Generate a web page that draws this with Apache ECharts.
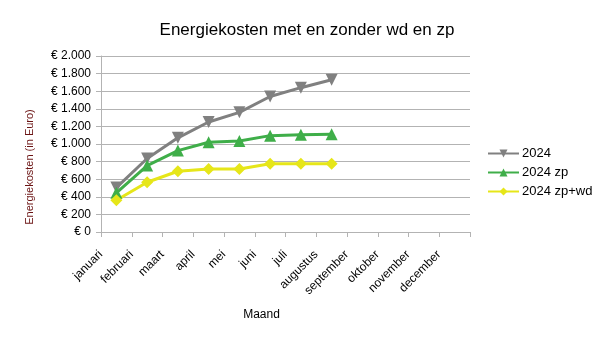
<!DOCTYPE html>
<html>
<head>
<meta charset="utf-8">
<script src="https://cdn.jsdelivr.net/npm/echarts@6/dist/echarts.min.js"></script>
<style>html,body{margin:0;padding:0;background:#fff;}#c{width:604px;height:340px;}</style>
</head>
<body>
<div id="c"></div>
<script>
var months = ['januari','februari','maart','april','mei','juni','juli','augustus','september','oktober','november','december'];
var s2024 = [505, 835, 1070, 1250, 1360, 1540, 1640, 1730, null, null, null, null];
var s2024zp = [445, 755, 925, 1020, 1035, 1095, 1105, 1110, null, null, null, null];
var s2024zpwd = [360, 565, 690, 715, 715, 775, 775, 775, null, null, null, null];
var seriesNames = ['2024', '2024 zp', '2024 zp+wd'];
var yTicks = {min: 0, max: 2000, interval: 200};

var font = 'Liberation Sans, Arial, sans-serif';
var chart = echarts.init(document.getElementById('c'), null, {renderer: 'canvas'});
function fmt(v){ return '€ ' + String(v).replace(/\B(?=(\d{3})+(?!\d))/g, '.'); }
chart.setOption({
  animation: false,
  backgroundColor: '#ffffff',
  title: {
    text: 'Energiekosten met en zonder wd en zp',
    left: 302, top: 17, textAlign: 'center',
    textStyle: {fontFamily: font, fontSize: 17, fontWeight: 'normal', color: '#000'}
  },
  legend: {
    orient: 'vertical', left: 487, top: 147, padding: 0,
    itemWidth: 31, itemHeight: 10, itemGap: 6,
    textStyle: {fontFamily: font, fontSize: 13, color: '#000', padding: [0, 0, 0, -2]},
    data: seriesNames
  },
  grid: {left: 101, right: 134, top: 56, bottom: 108, containLabel: false},
  xAxis: {
    type: 'category', data: months, boundaryGap: true,
    name: 'Maand', nameLocation: 'middle', nameGap: 77,
    nameTextStyle: {fontFamily: font, fontSize: 12, color: '#000', padding: [0, 48, 0, 0]},
    axisLine: {lineStyle: {color: '#b3b3b3'}},
    axisTick: {show: true, alignWithLabel: false, length: 5, lineStyle: {color: '#b3b3b3'}},
    axisLabel: {rotate: 45, fontFamily: font, fontSize: 12, color: '#000', interval: 0, margin: 5, padding: [0, 22, 0, 0]}
  },
  yAxis: {
    type: 'value', min: yTicks.min, max: yTicks.max, interval: yTicks.interval,
    name: 'Energiekosten (in Euro)', nameLocation: 'middle', nameGap: 66,
    nameTextStyle: {fontFamily: font, fontSize: 11, color: '#6b1414', padding: [0, 46, 0, 0]},
    axisLine: {show: true, lineStyle: {color: '#b3b3b3'}},
    axisTick: {show: true, inside: false, length: 5, lineStyle: {color: '#b3b3b3'}},
    splitLine: {lineStyle: {color: '#b3b3b3'}},
    axisLabel: {fontFamily: font, fontSize: 12, color: '#000', margin: 10, formatter: fmt}
  },
  series: [
    {name: seriesNames[0], type: 'line', data: s2024, symbol: 'triangle', symbolRotate: 180, symbolSize: 12,
     lineStyle: {width: 3, color: '#808080'}, itemStyle: {color: '#808080'}},
    {name: seriesNames[1], type: 'line', data: s2024zp, symbol: 'triangle', symbolSize: 12,
     lineStyle: {width: 3, color: '#3fae49'}, itemStyle: {color: '#3fae49'}},
    {name: seriesNames[2], type: 'line', data: s2024zpwd, symbol: 'diamond', symbolSize: 12,
     lineStyle: {width: 3, color: '#e6e619'}, itemStyle: {color: '#e6e619'}}
  ]
});
</script>
</body>
</html>
